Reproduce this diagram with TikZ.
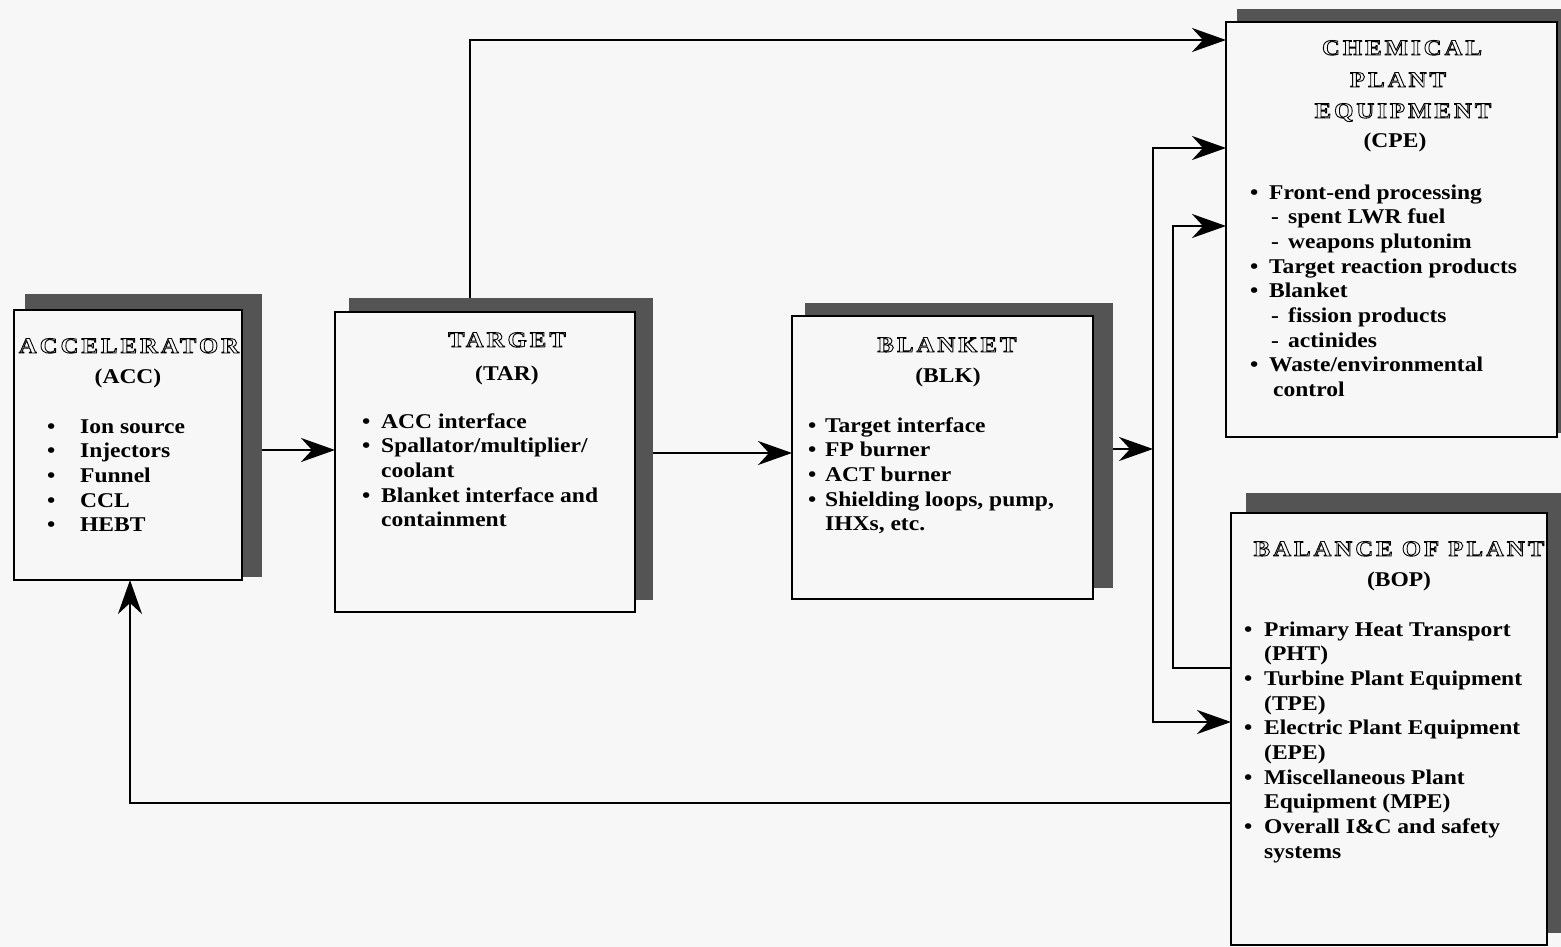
\documentclass[tikz,border=0pt]{standalone}
\usepackage{fontspec}
\setmainfont{Liberation Serif}[FakeStretch=1.12]
\newfontfamily\titlefont{Liberation Serif}[FakeStretch=1.12,LetterSpace=14]
\usetikzlibrary{arrows.meta,calc}
\pgfdeclarelayer{back}\pgfdeclarelayer{lines}\pgfdeclarelayer{shad}
\pgfsetlayers{back,lines,shad,main}
\definecolor{paper}{gray}{0.97}
\definecolor{shade}{gray}{0.33}
\newlength\bw
\newcommand\bi{\makebox[\bw][l]{\textbullet}}
\newcommand\ci{\hspace*{\bw}}
\newcommand\blist[2]{\vtop{\setlength\bw{#1}\baselineskip=24.7pt\lineskiplimit=-100pt\lineskip=0pt\halign{##\hfil\cr#2\crcr}}}
\newcommand\outl[1]{\special{pdf:literal direct 1 Tr 0.9 w}#1\special{pdf:literal direct 0 Tr}}
\begin{document}
\begin{tikzpicture}[x=1pt,y=-1pt,
  box/.style={draw=black,line width=2.2pt,fill=paper,rectangle,anchor=north west,inner sep=0pt,outer sep=0pt},
  shadowfill/.style={fill=shade},
  conn/.style={line width=2pt,draw=black},
  tip/.tip={Stealth[length=34pt,width=24pt,inset=11pt]},
  arr/.style={conn,-tip},
  darr/.style={conn,tip-tip},
  ttl/.style={font=\titlefont\fontsize{22}{24}\selectfont\bfseries,anchor=base,inner sep=0pt},
  abbr/.style={font=\fontsize{21}{24.7}\selectfont\bfseries,anchor=base,inner sep=0pt},
  lst/.style={font=\fontsize{21}{24.7}\selectfont\bfseries,anchor=base west,inner sep=0pt}]
\useasboundingbox (0,0) rectangle (1561,947);
\begin{pgfonlayer}{back}
\fill[paper] (0,0) rectangle (1561,947);
\end{pgfonlayer}

% boxes
\node[box,minimum width=228pt,minimum height=270pt] (acc) at (14,310) {};
\node[box,minimum width=300pt,minimum height=300pt] (tar) at (335,312) {};
\node[box,minimum width=301pt,minimum height=283pt] (blk) at (792,316) {};
\node[box,minimum width=331pt,minimum height=415pt] (cpe) at (1226,22) {};
\node[box,minimum width=316pt,minimum height=432pt] (bop) at (1231,513) {};

% shadows
\begin{pgfonlayer}{shad}
\fill[shadowfill] ($(acc.north west)+(11,-16)$) rectangle ($(acc.south east)+(20,-3)$);
\fill[shadowfill] ($(tar.north west)+(14,-14)$) rectangle ($(tar.south east)+(18,-12)$);
\fill[shadowfill] ($(blk.north west)+(13,-13)$) rectangle ($(blk.south east)+(20,-11)$);
\fill[shadowfill] ($(cpe.north west)+(11,-13)$) rectangle ($(cpe.south east)+(8,-4)$);
\fill[shadowfill] ($(bop.north west)+(15,-20)$) rectangle ($(bop.south east)+(14,-12)$);
\end{pgfonlayer}

% connector coordinates
\coordinate (y1) at (0,450);
\coordinate (y2) at (0,453);
\coordinate (j0) at (1153,449);
\coordinate (jt) at (1153,148);
\coordinate (jb) at (1153,722);
\coordinate (k1) at (1173,668);
\coordinate (k2) at (1173,226);
\coordinate (t1) at (470,40);
\coordinate (f1) at (130,803);

\begin{pgfonlayer}{lines}
\draw[arr] (acc.east |- y1) -- (tar.west |- y1);
\draw[arr] (tar.east |- y2) -- (blk.west |- y2);
\draw[arr] (blk.east |- j0) -- (j0);
\draw[darr] (cpe.west |- jt) -- (jt) -- (jb) -- (bop.west |- jb);
\draw[arr] (bop.west |- k1) -- (k1) -- (k2) -- (cpe.west |- k2);
\draw[arr] (tar.north -| t1) |- (cpe.west |- t1);
\draw[arr] (bop.west |- f1) -| (acc.south -| f1);
\end{pgfonlayer}

% ACC
\node[ttl] (acct) at (129,353) {\outl{ACCELERATOR}};
\node[abbr] (acca) at (128,383) {(ACC)};
\node[lst] (accl) at (47,433) {\blist{33pt}{\bi Ion source\cr \bi Injectors\cr \bi Funnel\cr \bi CCL\cr \bi HEBT}};

% TAR
\node[ttl] (tart) at (507,347) {\outl{TARGET}};
\node[abbr] (tara) at (507,380) {(TAR)};
\node[lst] (tarl) at (362,428) {\blist{19pt}{\bi ACC interface\cr \bi Spallator/multiplier/\cr \ci coolant\cr \bi Blanket interface and\cr \ci containment}};

% BLK
\node[ttl] (blkt) at (947,352) {\outl{BLANKET}};
\node[abbr] (blka) at (948,382) {(BLK)};
\node[lst] (blkl) at (808,432) {\blist{17pt}{\bi Target interface\cr \bi FP burner\cr \bi ACT burner\cr \bi Shielding loops, pump,\cr \ci IHXs, etc.}};

% CPE
\node[ttl] (cpet1) at (1402,55) {\outl{CHEMICAL}};
\node[ttl] (cpet2) at (1398,87) {\outl{PLANT}};
\node[ttl] (cpet3) at (1403,118) {\outl{EQUIPMENT}};
\node[abbr] (cpea) at (1395,148) {(CPE)};
\node[lst] (cpel) at (1250,199) {\blist{19pt}{\bi Front-end processing\cr
 \hspace*{21pt}\makebox[17pt][l]{-}spent LWR fuel\cr
 \hspace*{21pt}\makebox[17pt][l]{-}weapons plutonim\cr
 \bi Target reaction products\cr
 \bi Blanket\cr
 \hspace*{21pt}\makebox[17pt][l]{-}fission products\cr
 \hspace*{21pt}\makebox[17pt][l]{-}actinides\cr
 \bi Waste/environmental\cr
 \hspace*{23pt}control}};

% BOP
\node[ttl] (bopt) at (1399,556) {\outl{BALANCE OF PLANT}};
\node[abbr] (bopa) at (1399,586) {(BOP)};
\node[lst] (bopl) at (1244,636) {\blist{20pt}{\bi Primary Heat Transport\cr \ci (PHT)\cr
 \bi Turbine Plant Equipment\cr \ci (TPE)\cr
 \bi Electric Plant Equipment\cr \ci (EPE)\cr
 \bi Miscellaneous Plant\cr \ci Equipment (MPE)\cr
 \bi Overall I\&C and safety\cr \ci systems}};
\end{tikzpicture}
\end{document}
